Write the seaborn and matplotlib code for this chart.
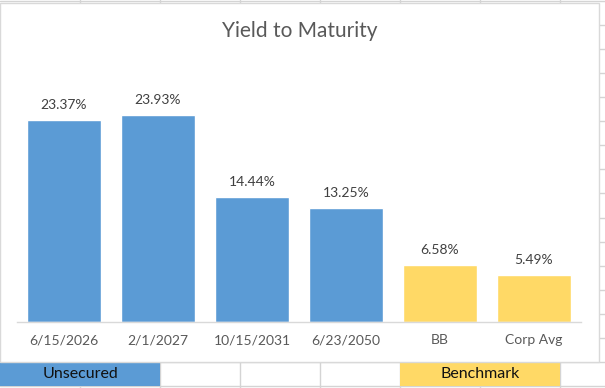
import matplotlib
matplotlib.use("Agg")
import matplotlib.pyplot as plt
from matplotlib.patches import Rectangle
from matplotlib.lines import Line2D
import seaborn as sns

# chart data
labels = ["6/15/2026", "2/1/2027", "10/15/2031", "6/23/2050", "BB", "Corp Avg"]
ytm = [23.37, 23.93, 14.44, 13.25, 6.58, 5.49]
group = ["Unsecured", "Unsecured", "Unsecured", "Unsecured", "Benchmark", "Benchmark"]
colors = {"Unsecured": "#5B9BD5", "Benchmark": "#FFD966"}

sns.set_theme(style="white")
plt.rcParams["font.family"] = ["Lato", "DejaVu Sans"]

W, H = 605, 388
fig = plt.figure(figsize=(6.05, 3.88), dpi=100)
fig.patch.set_facecolor("white")


def fx(x):
    return x / W


def fy(y):
    return 1 - y / H


# spreadsheet grid behind the chart
grid_c = "#D4D4D4"
for x in range(80, 605, 80):
    fig.add_artist(Line2D([fx(x), fx(x)], [0, 1], color=grid_c, lw=1, zorder=-3))
y = 386.0
while y > 0:
    fig.add_artist(Line2D([0, 1], [fy(y), fy(y)], color=grid_c, lw=1, zorder=-3))
    y -= 24.07

# group cells under the chart
fig.add_artist(Rectangle((fx(0), fy(386)), fx(160), 24 / H, transform=fig.transFigure,
                         facecolor="#5B9BD5", edgecolor="none", zorder=-2))
fig.add_artist(Rectangle((fx(400), fy(386)), fx(160), 24 / H, transform=fig.transFigure,
                         facecolor="#FFD966", edgecolor="none", zorder=-2))
fig.text(fx(80), fy(374), "Unsecured", ha="center", va="center", fontsize=11.5, color="#111111")
fig.text(fx(480), fy(374), "Benchmark", ha="center", va="center", fontsize=11.5, color="#111111")

# chart area
fig.add_artist(Rectangle((fx(0), fy(361.5)), fx(598.5), 358.5 / H, transform=fig.transFigure,
                         facecolor="white", edgecolor="#D9D9D9", lw=1, zorder=-1))

ax = fig.add_axes([fx(17), fy(322), fx(564), 259 / H])
ax.patch.set_alpha(0)
sns.barplot(x=labels, y=ytm, hue=group, palette=colors, dodge=False, width=0.78,
            saturation=1, legend=False, ax=ax)

for c in ax.containers:
    ax.bar_label(c, fmt="{:.2f}%", padding=6.5, fontsize=10, color="#404040")

ax.set_xlim(-0.5, 5.5)
ax.set_ylim(0, 30)
ax.set_yticks([])
ax.set_xlabel("")
ax.set_ylabel("")
for s in ["top", "left", "right"]:
    ax.spines[s].set_visible(False)
ax.spines["bottom"].set_color("#D9D9D9")
ax.spines["bottom"].set_linewidth(1)
ax.tick_params(axis="x", length=0, pad=9, labelsize=10, labelcolor="#595959")

fig.text(fx(300), fy(31), "Yield to Maturity", ha="center", va="center", fontsize=15,
         color="#595959")

fig.savefig("out.png", dpi=100)
